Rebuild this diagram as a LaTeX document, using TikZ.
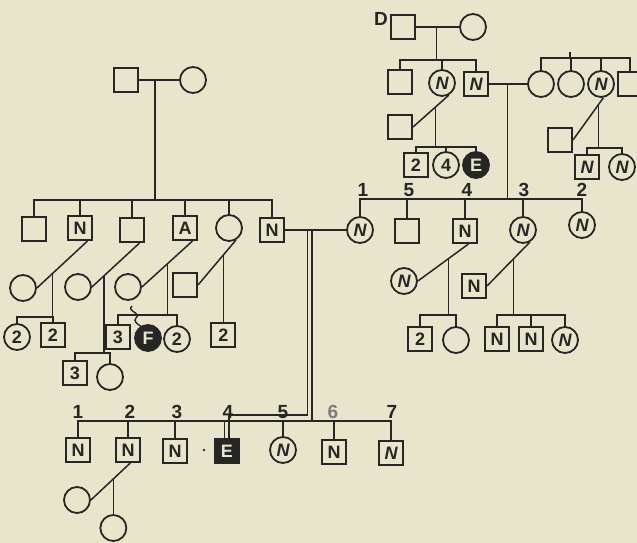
\documentclass[tikz,border=0pt]{standalone}
\usepackage{fontspec}
\setmainfont{Liberation Sans}
\usetikzlibrary{calc}
\definecolor{bg}{RGB}{232,229,204}
\definecolor{ink}{RGB}{38,38,36}
\begin{document}
\begin{tikzpicture}[x=1pt,y=-1pt,
 sq/.style={draw=ink,line width=2pt,minimum size=24pt,inner sep=0pt,font=\fontsize{18}{18}\selectfont\bfseries,text=ink},
 ci/.style={circle,draw=ink,line width=1.8pt,minimum size=26pt,inner sep=0pt,font=\fontsize{18}{18}\selectfont\bfseries,text=ink},
 fsq/.style={sq,fill=ink,text=bg},
 fci/.style={ci,fill=ink,text=bg},
 ln/.style={draw=ink,line width=1.5pt},
 num/.style={font=\fontsize{19}{19}\selectfont\bfseries,text=ink,inner sep=0pt}]
\fill[bg] (0,0) rectangle (637,543);
\useasboundingbox (0,0) rectangle (637,543);

% ---------- top-left family ----------
\node[sq] (g1) at (126,80) {};
\node[ci] (g2) at (193,80) {};
\draw[ln] (g1.east) -- coordinate[pos=0.40](gj) (g2.west);
\coordinate (gs) at (gj |- 0,200);
\draw[ln] (gj) -- (gs);
\node[sq] (a1) at (34,229) {};
\node[sq] (a2) at (80,228) {N};
\node[sq] (a3) at (132,230) {};
\node[sq] (a4) at (185,228) {A};
\node[ci] (a5) at (229,228) {};
\node[sq] (a6) at (272,230) {N};
\draw[ln] (a1.north) -- (a1.north |- gs) -- (a6.north |- gs) -- (a6.north);
\foreach \n in {a2,a3,a4,a5} \draw[ln] (\n.north) -- (\n.north |- gs);

% mating a2
\node[ci] (b1) at (23,288) {};
\draw[ln] (a2.-60) -- coordinate[pos=0.69](j1) (b1.east);
\coordinate (s1) at (j1 |- 0,317);
\draw[ln] (j1) -- (s1);
\node[ci] (c11) at (17,337) {2};
\node[sq] (c12) at (53,335) {2};
\draw[ln] (c11.north) -- (c11.north |- s1) -- (c12.north |- s1) -- (c12.north);

% mating a3
\node[ci] (b2) at (78,287) {};
\draw[ln] (a3.-60) -- coordinate[pos=0.75](j2) (b2.east);
\coordinate (s2) at (j2 |- 0,353);
\draw[ln] (j2) -- (s2);
\node[sq] (c21) at (75,373) {3};
\node[ci] (c22) at (110,377) {};
\draw[ln] (c21.north) -- (c21.north |- s2) -- (c22.north |- s2) -- (c22.north);

% mating a4
\node[ci] (b3) at (128,287) {};
\draw[ln] (a4.-60) -- coordinate[pos=0.49](j3) (b3.east);
\coordinate (s3) at (j3 |- 0,315);
\draw[ln] (j3) -- (s3);
\node[sq] (c31) at (118,337) {3};
\node[fci] (c32) at (148,338) {F};
\node[ci] (c33) at (177,339) {2};
\draw[ln] (c31.north) -- (c31.north |- s3) -- (c33.north |- s3) -- (c33.north);
\draw[ink,line width=1.4pt] (132,306) .. controls (126,311) and (142,313) .. (136,318)
  .. controls (133,321) and (137,324) .. (142,327);

% mating a5
\node[sq] (b4) at (185,285) {};
\draw[ln] (a5.-60) -- coordinate[pos=0.33](j4) (b4.east);
\node[sq] (c41) at (j4 |- 0,335) {2};
\draw[ln] (j4) -- (c41.north);

% ---------- consanguineous mating a6 x r1 ----------
\node[ci] (r1) at (360,230) {\itshape N};
\draw[ln] (a6.east) -- coordinate[pos=0.365](jL) coordinate[pos=0.445](jR) (r1.west);

\node[sq] (d1) at (78,450) {N};
\node[sq] (d2) at (128,450) {N};
\node[sq] (d3) at (175,451) {N};
\node[fsq] (d4) at (227,451) {E};
\node[ci] (d5) at (283,450) {\itshape N};
\node[sq] (d6) at (334,452) {N};
\node[sq] (d7) at (391,453) {\itshape N};
\node[num] at (78,412) {1};
\node[num] at (130,412) {2};
\node[num] at (177,412) {3};
\node[num] at (228,412) {4};
\node[num] at (283,412) {5};
\node[num,text=ink!60] at (333,412) {6};
\node[num] at (392,412) {7};
\coordinate (sB) at (jR |- 0,421);
\coordinate (yB) at (0,415);
\draw[ln] (jR) -- (sB);
\draw[ln] (d1.north) -- (d1.north |- sB) -- (d7.north |- sB) -- (d7.north);
\foreach \n in {d2,d3,d5,d6} \draw[ln] (\n.north) -- (\n.north |- sB);
\coordinate (eL) at ([xshift=-2.5pt]d4.north);
\coordinate (eR) at ([xshift=2pt]d4.north);
\draw[ln] (eL) -- (eL |- sB);
\draw[ln] (jL) -- (jL |- yB) -- (eR |- yB) -- (eR);
\fill[ink] (204,450) circle (1.3);

% mating d2
\node[ci] (e1) at (77,500) {};
\draw[ln] (d2.-80) -- coordinate[pos=0.43](j6) (e1.east);
\node[ci] (e2) at (j6 |- 0,528) {};
\draw[ln] (j6) -- (e2.north);

% ---------- top-right family ----------
\node[sq] (t1) at (403,27) {};
\node[ci] (t2) at (473,27) {};
\node[num] at (381,19) {D};
\draw[ln] (t1.east) -- coordinate[pos=0.48](tj) (t2.west);
\coordinate (ts) at (tj |- 0,60);
\draw[ln] (tj) -- (ts);
\node[sq] (u1) at (400,82) {};
\node[ci] (u2) at (442,83) {\itshape N};
\node[sq] (u3) at (476,84) {\itshape N};
\draw[ln] (u1.north) -- (u1.north |- ts) -- (u3.north |- ts) -- (u3.north);
\draw[ln] (u2.north) -- (u2.north |- ts);

\node[ci] (v1) at (541,84) {};
\node[ci] (v2) at (571,84) {};
\node[ci] (v3) at (601,84) {\itshape N};
\node[sq] (v4) at (630,84) {};
\coordinate (vs) at (570,58);
\coordinate (vt) at (570,52);
\draw[ln] (vt) -- (vs);
\draw[ln] (v1.north) -- (v1.north |- vs) -- (v4.north |- vs) -- (v4.north);
\foreach \n in {v2,v3} \draw[ln] (\n.north) -- (\n.north |- vs);

\draw[ln] (u3.east) -- coordinate[pos=0.49](mj) (v1.west);
\coordinate (rs) at (mj |- 0,199);
\draw[ln] (mj) -- (rs);

% mating u2
\node[sq] (w1) at (400,127) {};
\draw[ln] (u2.-60) -- coordinate[pos=0.375](wj) (w1.east);
\coordinate (ws) at (wj |- 0,147);
\draw[ln] (wj) -- (ws);
\node[sq] (w2) at (416,165) {2};
\node[ci] (w3) at (446,165) {4};
\node[fci] (w4) at (476,165) {E};
\draw[ln] (w2.north) -- (w2.north |- ws) -- (w4.north |- ws) -- (w4.north);
\draw[ln] (w3.north) -- (w3.north |- ws);

% mating v3
\node[sq] (x1) at (560,140) {};
\draw[ln] (v3.-80) -- coordinate[pos=0.17](xj) (x1.east);
\coordinate (xs) at (xj |- 0,148);
\draw[ln] (xj) -- (xs);
\node[sq] (x2) at (587,167) {\itshape N};
\node[ci] (x3) at (622,167) {\itshape N};
\draw[ln] (x2.north) -- (x2.north |- xs) -- (x3.north |- xs) -- (x3.north);

% children of u3 x v1
\node[sq] (rr5) at (407,231) {};
\node[sq] (rr4) at (465,231) {N};
\node[ci] (rr3) at (523,230) {\itshape N};
\node[ci] (rr2) at (582,225) {\itshape N};
\node[num] at (363,190) {1};
\node[num] at (409,190) {5};
\node[num] at (467,190) {4};
\node[num] at (524,190) {3};
\node[num] at (582,190) {2};
\draw[ln] (r1.north) -- (r1.north |- rs) -- (rr2.north |- rs) -- (rr2.north);
\foreach \n in {rr5,rr4,rr3} \draw[ln] (\n.north) -- (\n.north |- rs);

% mating rr4
\node[ci] (y1) at (404,281) {\itshape N};
\draw[ln] (rr4.-75) -- coordinate[pos=0.40](yj) (y1.east);
\coordinate (ys) at (yj |- 0,315);
\draw[ln] (yj) -- (ys);
\node[sq] (y2) at (420,339) {2};
\node[ci] (y3) at (456,340) {};
\draw[ln] (y2.north) -- (y2.north |- ys) -- (y3.north |- ys) -- (y3.north);

% mating rr3
\node[sq] (z1) at (474,286) {N};
\draw[ln] (rr3.-60) -- coordinate[pos=0.38](zj) (z1.east);
\coordinate (zs) at (zj |- 0,315);
\draw[ln] (zj) -- (zs);
\node[sq] (z2) at (497,339) {N};
\node[sq] (z3) at (531,339) {N};
\node[ci] (z4) at (565,340) {\itshape N};
\draw[ln] (z2.north) -- (z2.north |- zs) -- (z4.north |- zs) -- (z4.north);
\draw[ln] (z3.north) -- (z3.north |- zs);
\end{tikzpicture}
\end{document}
